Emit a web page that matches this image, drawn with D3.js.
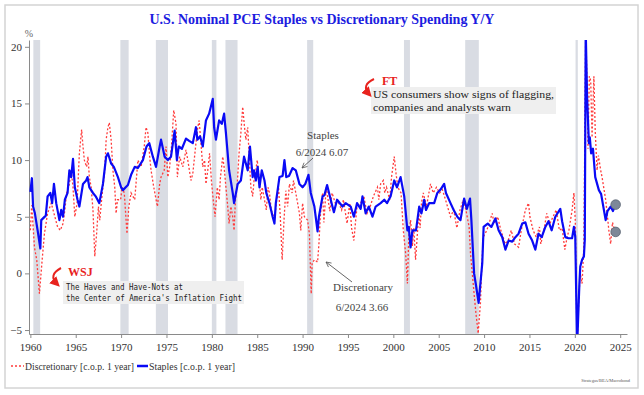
<!DOCTYPE html>
<head>
  <meta charset="utf-8">
  <title>PCE Staples vs Discretionary</title>
  <script src="https://cdn.jsdelivr.net/npm/d3@7"></script>
  <style>
    body { margin: 0; background: #fff; }
  </style>
</head>
<body>
<script>
var WIDTH = 644, HEIGHT = 395;

// staples (blue, solid)
var staplesDates = [1960.0,1960.17,1960.3,1960.5,1960.8,1961.1,1961.2,1961.7,1961.9,1962.2,1962.4,1962.6,1962.85,1963.2,1963.4,1963.6,1963.8,1964.1,1964.3,1964.5,1964.7,1964.9,1965.2,1965.4,1965.8,1966.15,1966.3,1966.5,1966.9,1967.2,1967.6,1968.0,1968.35,1968.55,1968.9,1969.2,1969.65,1970.0,1970.2,1970.75,1971.1,1971.5,1971.85,1972.4,1972.8,1973.1,1973.5,1973.85,1974.25,1974.4,1974.8,1975.15,1975.5,1975.9,1976.15,1976.35,1976.7,1977.15,1977.5,1977.9,1978.25,1978.4,1978.7,1979.0,1979.35,1979.7,1980.1,1980.25,1980.45,1980.8,1981.1,1981.35,1981.55,1981.9,1982.3,1982.45,1982.85,1983.2,1983.55,1983.95,1984.2,1984.5,1984.65,1984.85,1985.05,1985.25,1985.5,1985.8,1986.0,1986.35,1986.7,1986.9,1987.05,1987.45,1987.8,1988.0,1988.2,1988.5,1988.9,1989.25,1989.65,1990.0,1990.3,1990.65,1990.9,1991.3,1991.65,1991.8,1992.2,1992.4,1992.7,1993.1,1993.45,1993.8,1994.4,1994.75,1995.3,1995.65,1996.0,1996.4,1996.6,1996.95,1997.3,1997.7,1998.05,1998.6,1999.0,1999.3,1999.7,2000.1,2000.4,2000.8,2001.2,2001.55,2001.7,2001.9,2002.1,2002.5,2002.85,2003.1,2003.4,2003.6,2003.95,2004.5,2004.85,2005.2,2005.6,2005.8,2006.3,2006.65,2007.05,2007.4,2007.8,2008.1,2008.45,2008.6,2008.9,2009.1,2009.4,2009.8,2009.95,2010.4,2010.8,2011.25,2011.6,2012.0,2012.35,2012.7,2013.1,2013.45,2013.8,2014.2,2014.55,2014.9,2015.3,2015.65,2016.0,2016.35,2016.75,2017.1,2017.45,2017.85,2018.4,2018.6,2018.95,2019.3,2019.7,2019.9,2020.05,2020.25,2020.5,2020.6,2020.8,2021.0,2021.1,2021.2,2021.35,2021.55,2021.65,2021.8,2022.0,2022.25,2022.65,2022.9,2023.4,2023.6,2023.95,2024.2,2024.45];
var staplesValues = [7.2,8.4,5.9,5.3,3.8,2.2,4.7,5.1,6.8,7.1,6.2,7.9,6.2,4.7,5.6,5.0,6.5,7.1,9.1,8.5,10.1,7.6,6.5,5.9,7.9,8.2,8.5,7.6,7.1,6.8,6.2,7.9,10.3,10.6,9.7,9.4,8.5,7.6,7.35,7.8,8.7,9.4,9.3,10.0,11.2,11.5,10.3,9.4,11.2,11.8,10.3,10.0,10.3,12.6,10.0,11.2,11.0,11.9,11.7,11.5,12.9,11.8,12.1,11.2,13.5,14.1,15.4,12.9,11.8,13.5,13.2,14.1,12.4,9.1,7.1,6.2,7.9,8.2,10.3,9.1,11.2,8.5,9.1,8.2,9.4,7.6,9.1,8.2,7.1,6.2,5.0,4.4,6.2,8.5,8.6,10.0,8.5,8.6,9.3,9.1,7.9,7.6,7.9,8.7,7.1,5.9,3.7,5.0,6.8,6.9,7.8,6.5,5.4,6.5,5.9,6.2,5.9,5.0,6.2,5.7,6.8,5.3,5.9,5.0,5.9,6.2,6.5,6.2,6.8,8.2,7.6,8.5,6.8,3.8,4.1,2.3,3.8,3.8,5.9,5.3,6.5,5.6,6.2,6.2,7.1,7.4,7.9,7.1,6.2,5.6,5.0,4.7,6.6,5.7,6.6,4.7,0.0,-1.0,-2.6,0.9,4.1,4.4,4.1,4.85,3.8,3.2,2.1,2.9,2.8,3.2,3.5,4.4,4.5,3.5,2.9,2.1,3.5,3.2,4.1,4.6,3.8,5.0,5.7,4.6,3.2,3.1,3.1,4.1,3.2,-6.5,-1.0,0.6,1.2,1.5,3.0,21.5,15.6,11.5,12.0,10.6,11.0,8.5,7.35,7.0,4.7,5.5,5.9,5.5,6.07];

// discretionary (red, dotted)
var discDates = [1960.0,1960.15,1960.45,1960.7,1961.0,1961.3,1961.55,1961.9,1962.3,1962.6,1963.0,1963.3,1963.6,1963.8,1964.0,1964.3,1964.5,1964.7,1964.9,1965.15,1965.4,1965.65,1965.8,1965.95,1966.2,1966.35,1966.5,1966.7,1966.9,1967.1,1967.3,1967.5,1967.65,1967.85,1968.2,1968.35,1968.55,1968.7,1968.9,1969.1,1969.3,1969.45,1969.6,1969.95,1970.1,1970.35,1970.65,1970.85,1971.1,1971.5,1971.65,1971.85,1972.2,1972.55,1972.75,1972.95,1973.15,1973.3,1973.6,1974.0,1974.25,1974.4,1974.75,1974.95,1975.15,1975.35,1975.55,1975.8,1976.05,1976.2,1976.45,1976.8,1977.15,1977.35,1977.7,1977.9,1978.25,1978.45,1978.6,1978.8,1979.0,1979.2,1979.35,1979.55,1979.75,1979.95,1980.15,1980.35,1980.6,1980.8,1980.95,1981.2,1981.35,1981.55,1981.75,1981.9,1982.1,1982.3,1982.45,1982.6,1982.8,1983.0,1983.2,1983.4,1983.6,1983.75,1983.95,1984.1,1984.3,1984.5,1984.65,1984.85,1985.0,1985.2,1985.4,1985.55,1985.8,1986.0,1986.2,1986.35,1986.55,1986.9,1987.15,1987.35,1987.55,1987.75,1987.95,1988.15,1988.35,1988.55,1988.85,1989.0,1989.25,1989.65,1989.8,1990.0,1990.2,1990.55,1990.75,1990.95,1991.05,1991.3,1991.65,1991.8,1991.95,1992.2,1992.35,1992.6,1993.0,1993.25,1993.6,1994.0,1994.3,1994.5,1994.9,1995.2,1995.4,1995.65,1995.85,1996.0,1996.4,1996.75,1997.1,1997.45,1997.8,1998.25,1998.4,1998.6,1998.9,1999.05,1999.25,1999.6,1999.8,2000.1,2000.3,2000.5,2000.85,2001.1,2001.35,2001.55,2001.7,2001.9,2002.1,2002.25,2002.45,2002.6,2002.8,2002.95,2003.1,2003.3,2003.65,2004.1,2004.4,2004.75,2005.1,2005.4,2005.75,2006.3,2006.65,2007.0,2007.35,2007.7,2008.0,2008.35,2008.5,2008.7,2008.9,2009.1,2009.35,2009.6,2009.7,2009.8,2009.9,2010.3,2010.9,2011.1,2011.5,2011.85,2012.1,2012.3,2012.65,2013.0,2013.35,2013.8,2014.1,2014.55,2014.9,2015.05,2015.4,2015.75,2016.1,2016.25,2016.6,2016.9,2017.25,2017.6,2017.95,2018.3,2018.6,2018.9,2019.15,2019.35,2019.7,2019.9,2020.05,2020.25,2020.45,2020.6,2020.8,2021.0,2021.2,2021.35,2021.45,2021.6,2021.75,2021.9,2022.1,2022.25,2022.45,2022.6,2022.85,2023.0,2023.4,2023.6,2023.75,2023.95,2024.15,2024.45];
var discValues = [3.8,6.0,2.3,1.2,-1.8,1.2,3.5,5.3,6.2,5.3,4.1,3.8,4.4,5.6,7.1,7.9,9.1,7.6,5.0,6.2,10.6,12.7,11.2,10.0,9.4,10.3,8.5,7.6,5.6,1.5,3.5,5.9,4.7,6.5,9.1,11.8,12.9,13.3,11.8,9.1,7.6,5.3,6.5,6.5,7.6,7.1,3.5,5.9,7.1,6.5,8.0,10.0,9.4,11.2,12.9,12.4,10.3,9.1,7.6,5.9,7.9,8.5,9.1,11.2,8.5,9.4,11.2,14.4,13.2,8.5,10.3,9.4,10.9,10.0,8.2,8.8,11.5,12.9,13.5,11.5,9.4,10.0,7.9,9.1,10.6,8.2,6.5,5.0,7.6,6.5,8.5,10.3,9.4,7.6,5.9,4.4,5.9,5.0,3.8,6.5,7.9,10.6,12.4,14.7,12.9,11.8,12.9,10.6,7.6,6.8,8.2,9.1,10.0,8.5,6.5,7.6,6.5,5.6,7.6,7.1,5.6,4.7,6.5,7.6,4.9,1.2,4.7,7.3,5.9,7.9,7.1,8.2,7.1,5.3,3.8,6.2,5.0,4.7,3.5,-1.8,0.9,1.2,1.0,2.6,5.0,7.1,4.5,7.6,5.5,7.1,6.2,6.2,5.6,6.5,4.4,6.2,4.0,2.9,4.7,5.9,6.2,6.8,5.3,5.9,6.8,7.6,6.5,7.9,8.2,7.1,7.6,6.5,8.5,10.3,8.8,7.6,7.1,3.8,1.8,-0.9,3.2,4.7,2.4,4.0,1.2,2.9,5.3,4.0,6.2,7.1,5.9,7.9,7.1,7.6,7.1,7.4,6.5,5.0,5.6,4.0,5.6,6.5,5.6,4.1,1.8,0.0,-1.8,-3.5,-5.3,-2.6,-0.3,1.5,3.2,3.8,5.3,4.4,5.0,3.8,3.2,2.6,2.9,3.8,2.6,2.3,3.8,5.6,6.2,5.0,3.8,3.2,4.1,2.6,3.8,5.3,4.4,5.0,5.6,3.8,4.0,2.1,3.2,3.8,5.6,7.1,4.7,-6.5,-2.0,0.0,-0.9,2.5,21.5,16.8,11.0,17.4,17.0,12.0,17.4,12.5,9.1,10.4,9.1,8.5,6.5,5.0,3.8,2.6,4.5,3.66];

// NBER recessions
var recStart = [1960.33,1969.92,1973.83,1980.0,1981.5,1990.5,2001.17,2007.92,2020.08];
var recEnd   = [1961.08,1970.83,1975.17,1980.5,1982.83,1991.17,2001.83,2009.42,2020.33];

var yTicks = [-5,0,5,10,15,20];
var xTicks = [1960,1965,1970,1975,1980,1985,1990,1995,2000,2005,2010,2015,2020,2025];

var latestDate = 2024.5, latestStaples = 6.07, latestDisc = 3.66;

var SERIF = "Liberation Serif, Times New Roman, serif";
var MONO = "DejaVu Sans Mono, Liberation Mono, monospace";

var svg = d3.select("body").append("svg")
            .attr("width", WIDTH)
            .attr("height", HEIGHT)
            .attr("font-family", SERIF);

// frame
svg.append("rect")
   .attr("x", 5).attr("y", 5).attr("width", 633).attr("height", 383)
   .attr("fill", "#fff").attr("stroke", "#d4d4d4").attr("stroke-width", 1.5);

var x = d3.scaleLinear().domain([1959.85, 2025.75]).range([29, 627]);
var y = d3.scaleLinear().domain([-5.35, 20.6]).range([334, 40]);

var defs = svg.append("defs");
defs.append("clipPath").attr("id", "plot")
   .append("rect").attr("x", 29).attr("y", 40).attr("width", 598).attr("height", 294);

// recession bars
svg.append("g").selectAll("rect")
   .data(recStart)
   .enter().append("rect")
   .attr("x", function(d){ return x(d); })
   .attr("y", 40)
   .attr("width", function(d, i){ return x(recEnd[i]) - x(d); })
   .attr("height", 294)
   .attr("fill", "#d9dce3");

// axes
var yAxis = svg.append("g")
   .attr("transform", "translate(29,0)")
   .call(d3.axisLeft(y).tickValues(yTicks).tickSize(4).tickSizeOuter(0));
var xAxis = svg.append("g")
   .attr("transform", "translate(0,334)")
   .call(d3.axisBottom(x).tickValues(xTicks).tickFormat(d3.format("d")).tickSize(4).tickSizeOuter(0));

[yAxis, xAxis].forEach(function(a){
  a.attr("font-family", SERIF).attr("font-size", 11);
  a.selectAll("path, line").attr("stroke", "#8a8a8a");
  a.selectAll("text").attr("fill", "#333");
});
xAxis.selectAll("text").attr("dy", "0.95em");

svg.append("text").attr("x", 29).attr("y", 37).attr("text-anchor", "middle")
   .attr("font-size", 10).attr("fill", "#666").text("%");

// lines
var line = d3.line()
  .x(function(d){ return x(d[0]); })
  .y(function(d){ return y(d[1]); });

var disc = d3.zip(discDates, discValues);
var staples = d3.zip(staplesDates, staplesValues);

var plot = svg.append("g").attr("clip-path", "url(#plot)");
plot.append("path").datum(disc)
    .attr("d", line).attr("fill", "none")
    .attr("stroke", "#ff3b3b").attr("stroke-width", 1.3)
    .attr("stroke-dasharray", "2,2");
plot.append("path").datum(staples)
    .attr("d", line).attr("fill", "none")
    .attr("stroke", "#0a0af5").attr("stroke-width", 2.2)
    .attr("stroke-linejoin", "round");

// latest markers
svg.append("g").selectAll("circle")
   .data([latestStaples, latestDisc])
   .enter().append("circle")
   .attr("cx", x(latestDate))
   .attr("cy", function(d){ return y(d); })
   .attr("r", 4.8)
   .attr("fill", "#7d8898").attr("stroke", "#5a6472").attr("stroke-width", 0.8);

// title
svg.append("text").attr("x", 322).attr("y", 24).attr("text-anchor", "middle")
   .attr("font-size", 14).attr("font-weight", "bold").attr("fill", "#1c1ce0")
   .text("U.S. Nominal PCE Staples vs Discretionary Spending Y/Y");

// arrow markers
defs.append("marker").attr("id", "ga").attr("viewBox", "0 0 10 10")
    .attr("refX", 9).attr("refY", 5).attr("markerWidth", 7).attr("markerHeight", 7)
    .attr("orient", "auto")
    .append("path").attr("d", "M1,1 L9,5 L1,9").attr("fill", "none").attr("stroke", "#555").attr("stroke-width", 1.2);
defs.append("marker").attr("id", "ra").attr("viewBox", "0 0 10 10")
    .attr("refX", 6).attr("refY", 5).attr("markerWidth", 5).attr("markerHeight", 5)
    .attr("orient", "auto")
    .append("path").attr("d", "M0,0 L10,5 L0,10 Z").attr("fill", "#e8231e");

// staples / discretionary callouts
function note(tx, ty, str) {
  svg.append("text").attr("x", tx).attr("y", ty).attr("text-anchor", "middle")
     .attr("font-size", 11).attr("fill", "#444").text(str);
}
note(323, 139, "Staples");
note(322, 156, "6/2024 6.07");
svg.append("line").attr("x1", 313).attr("y1", 158).attr("x2", 302).attr("y2", 168)
   .attr("stroke", "#555").attr("stroke-width", 0.9).attr("marker-end", "url(#ga)");
note(363, 291, "Discretionary");
note(362, 311, "6/2024 3.66");
svg.append("line").attr("x1", 352).attr("y1", 282).attr("x2", 326).attr("y2", 262)
   .attr("stroke", "#555").attr("stroke-width", 0.9).attr("marker-end", "url(#ga)");

// FT headline
svg.append("rect").attr("x", 371).attr("y", 87).attr("width", 185).attr("height", 27).attr("fill", "#efefef");
svg.append("text").attr("x", 382).attr("y", 85).attr("font-size", 12).attr("font-weight", "bold")
   .attr("fill", "#e8231e").text("FT");
svg.append("path").attr("d", "M374,79 Q361,85 369,94").attr("fill", "none")
   .attr("stroke", "#e8231e").attr("stroke-width", 2).attr("marker-end", "url(#ra)");
svg.append("text").attr("x", 373).attr("y", 98).attr("font-size", 11).attr("fill", "#222")
   .attr("textLength", 181).attr("lengthAdjust", "spacingAndGlyphs")
   .text("US consumers show signs of flagging,");
svg.append("text").attr("x", 373).attr("y", 111).attr("font-size", 11).attr("fill", "#222")
   .attr("textLength", 138).attr("lengthAdjust", "spacingAndGlyphs")
   .text("companies and analysts warn");

// WSJ headline
svg.append("rect").attr("x", 63).attr("y", 281).attr("width", 181).attr("height", 23).attr("fill", "#efefef");
svg.append("text").attr("x", 68).attr("y", 276).attr("font-size", 12).attr("font-weight", "bold")
   .attr("fill", "#e8231e").text("WSJ");
svg.append("path").attr("d", "M61,268 Q48,275 57,284").attr("fill", "none")
   .attr("stroke", "#e8231e").attr("stroke-width", 2).attr("marker-end", "url(#ra)");
svg.append("text").attr("x", 66).attr("y", 290).attr("font-size", 8)
   .attr("font-family", MONO).attr("fill", "#222")
   .attr("textLength", 117).attr("lengthAdjust", "spacingAndGlyphs")
   .text("The Haves and Have-Nots at");
svg.append("text").attr("x", 66).attr("y", 301).attr("font-size", 8)
   .attr("font-family", MONO).attr("fill", "#222")
   .attr("textLength", 176).attr("lengthAdjust", "spacingAndGlyphs")
   .text("the Center of America's Inflation Fight");

// legend
var leg = svg.append("g").attr("transform", "translate(0,366)");
leg.append("line").attr("x1", 11).attr("x2", 24).attr("y1", 0).attr("y2", 0)
   .attr("stroke", "#ff3b3b").attr("stroke-width", 1.3).attr("stroke-dasharray", "2,2");
leg.append("text").attr("x", 25).attr("y", 4).attr("font-size", 10.5).attr("fill", "#333")
   .attr("textLength", 109).attr("lengthAdjust", "spacingAndGlyphs")
   .text("Discretionary [c.o.p. 1 year]");
leg.append("line").attr("x1", 137).attr("x2", 148).attr("y1", 0).attr("y2", 0)
   .attr("stroke", "#0a0af5").attr("stroke-width", 2.5);
leg.append("text").attr("x", 149).attr("y", 4).attr("font-size", 10.5).attr("fill", "#333")
   .attr("textLength", 86).attr("lengthAdjust", "spacingAndGlyphs")
   .text("Staples [c.o.p. 1 year]");

svg.append("text").attr("x", 630).attr("y", 382).attr("text-anchor", "end")
   .attr("font-size", 4.5).attr("fill", "#555").text("Strategas/BEA/Macrobond");
</script>
</body>
